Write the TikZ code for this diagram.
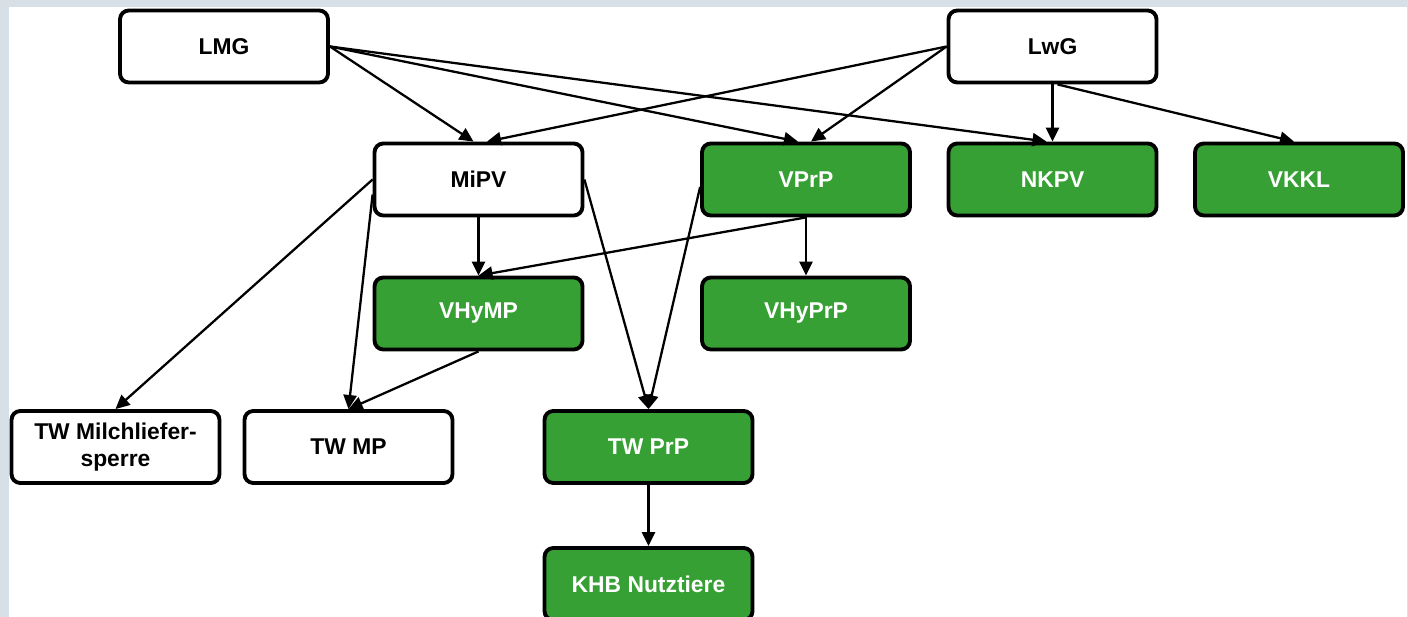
\documentclass[tikz,border=0pt]{standalone}
\usepackage{fontspec}
\setmainfont{Liberation Sans}
\usetikzlibrary{arrows.meta,positioning}
\tikzset{
  box/.style = {draw=black, line width=2.2pt, rounded corners=5pt, minimum width=4.16cm,
  minimum height=1.44cm, align=center, inner sep=2pt, font=\fontsize{13}{15.6}\selectfont\bfseries},
  box_w/.style = {box, fill=white, text=black},
  box_g/.style = {box, fill=my_green, text=white}
}
\definecolor{my_green}{RGB}{54, 160, 52}
\definecolor{my_grey}{RGB}{214, 224, 230}

\begin{document}
\begin{tikzpicture}[x=0.02cm, y=-0.02cm, >={Triangle[length=8pt,width=7.5pt]},
        edge/.style={->, line width=1.3pt}]
  \fill[my_grey] (0,0) rectangle (1408,617);
  \fill[white] (9,7) rectangle (1407,617);
  \useasboundingbox (0,0) rectangle (1408,617);

  \node[box_w] (LMG) at (224,46.5) {LMG};
  \node[box_w] (LwG) at (1052.5,46.5) {LwG};
  \node[box_w] (MiPV) at (478.5,179.5) {MiPV};
  \node[box_g] (VPrP) at (806,179.5) {VPrP};
  \node[box_g] (NKPV) at (1052.5,179.5) {NKPV};
  \node[box_g] (VKKL) at (1299,179.5) {VKKL};
  \node[box_g] (VHyMP) at (478.5,313.5) {VHyMP};
  \node[box_g] (VHyPrP) at (806,313.5) {VHyPrP};
  \node[box_w] (TWMS) at (115.5,447) {TW Milchliefer-\\sperre};
  \node[box_w] (TWMP) at (348.5,447) {TW MP};
  \node[box_g] (TWPrP) at (648.5,447) {TW PrP};
  \node[box_g] (KHB) at (648.5,584) {KHB Nutztiere};

  \draw[edge] (LMG.east) -- ([xshift=-0.1cm]MiPV.north);
  \draw[edge] (LMG.east) -- ([xshift=-0.16cm]VPrP.north);
  \draw[edge] (LMG.east) -- ([xshift=-0.12cm]NKPV.north);
  \draw[edge] (LwG.west) -- ([xshift=0.17cm]MiPV.north);
  \draw[edge] (LwG.west) -- ([xshift=0.1cm]VPrP.north);
  \draw[edge] (LwG.south) -- (NKPV.north);
  \draw[edge] ([xshift=0.1cm]LwG.south) -- ([xshift=-0.1cm]VKKL.north);
  \draw[edge] (MiPV.south) -- (VHyMP.north);
  \draw[edge] (MiPV.west) -- (TWMS.north);
  \draw[edge] ([yshift=-0.3cm]MiPV.west) -- (TWMP.north);
  \draw[edge] (MiPV.east) -- (TWPrP.north);
  \draw[edge] ([yshift=-0.15cm]VPrP.west) -- (TWPrP.north);
  \draw[edge] (VPrP.south) -- (VHyMP.north);
  \draw[edge] (VPrP.south) -- (VHyPrP.north);
  \draw[edge] (VHyMP.south) -- (TWMP.north);
  \draw[edge] (TWPrP.south) -- (KHB.north);
\end{tikzpicture}
\end{document}
